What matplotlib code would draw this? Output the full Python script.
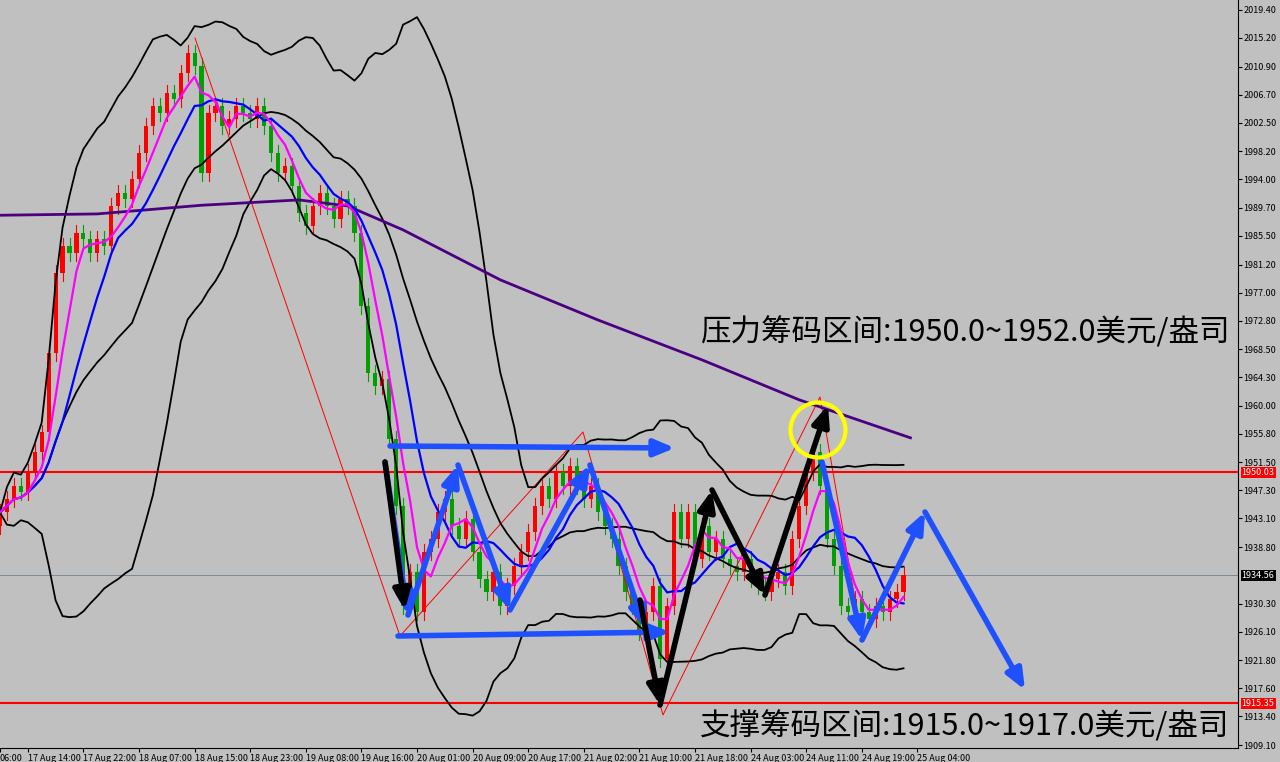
import matplotlib
matplotlib.use("Agg")
import matplotlib.pyplot as plt
import numpy as np
import pandas as pd
from matplotlib.patches import Ellipse

plt.rcParams['font.family'] = ['Noto Sans CJK SC', 'DejaVu Sans']

closes = [1944,1946,1948,1947,1950,1953,1956,1968,1980,1984,1983,1986,1985,1983,1985,1984,
          1990,1992,1991,1994,1998,2002,2005,2004,2007,2006,2010,2013,2011,1995,2004,2005,2002,
          2003,2005,2004,2003,2005,2002,1998,1995,1996,1993,1989,1987,1990,1992,1990,1988,1991,
          1990,1986,1975,1965,1963,1964,1955,1945,1930,1935,1929,1938,1940,1944,1946,1942,1940,
          1943,1938,1934,1932,1935,1930,1933,1936,1938,1941,1945,1948,1946,1950,1948,1951,1948,
          1946,1948,1944,1942,1940,1936,1932,1930,1926,1929,1933,1922,1930,1944,1940,1944,1937,
          1942,1938,1940,1937,1936,1935,1937,1934,1933,1932,1934,1935,1933,1940,1945,1950,1953,
          1948,1940,1936,1930,1929,1931,1929,1928,1930,1929,1931,1932,1934.6]
first_open = 1942
ma200_x = [0, 14, 29, 43, 50, 58, 72, 86, 101, 115, 131]
ma200_y = [1988.6, 1988.8, 1990.1, 1990.9, 1990.0, 1986.4, 1978.9, 1972.9, 1966.9, 1960.9, 1955.2]
ytick_vals = [2019.40,2015.20,2010.90,2006.70,2002.50,1998.20,1994.00,1989.70,1985.50,1981.20,
              1977.00,1972.80,1968.50,1964.30,1960.00,1955.80,1951.50,1947.30,1943.10,1938.80,
              1930.30,1926.10,1921.80,1917.60,1913.40,1909.10]
xtick_pos = [0,4,12,20,28,36,44,52,60,68,76,84,92,100,108,116,124,132]
xtick_lab = ["06:00","17 Aug 14:00","17 Aug 22:00","18 Aug 07:00","18 Aug 15:00","18 Aug 23:00",
             "19 Aug 08:00","19 Aug 16:00","20 Aug 01:00","20 Aug 09:00","20 Aug 17:00","21 Aug 02:00",
             "21 Aug 10:00","21 Aug 18:00","24 Aug 03:00","24 Aug 11:00","24 Aug 19:00","25 Aug 04:00"]
resist, support, last = 1950.03, 1915.35, 1934.56

PX = 6.95  # pixels per bar
def P(x, y):  # pixel -> data
    return (x / PX, 2019.4 - (y - 10) / 6.664)

fig = plt.figure(figsize=(12.8, 7.62), dpi=100)
fig.patch.set_facecolor('#c0c0c0')
ax = fig.add_axes([0, 14/762, 1238/1280, 748/762])
ax.set_facecolor('#c0c0c0')

c = np.array(closes, float)
o = np.concatenate([[first_open], c[:-1]])
hi = np.maximum(o, c) + 1.2
lo = np.minimum(o, c) - 1.2
x = np.arange(len(c))
for i in range(len(c)):
    col = '#ff0000' if c[i] >= o[i] else '#00a000'
    ax.plot([i, i], [lo[i], hi[i]], color=col, lw=0.8, zorder=2)
    ax.bar(i, abs(c[i]-o[i]) or 0.2, bottom=min(o[i], c[i]), width=0.6, color=col, zorder=3)

s = pd.Series(c)
mid = s.rolling(20, min_periods=1).mean()
sd = s.rolling(20, min_periods=1).std().fillna(0)
ax.plot(x, mid, color='black', lw=1.3, zorder=4)
ax.plot(x, mid + 2*sd, color='black', lw=1.3, zorder=4)
ax.plot(x, mid - 2*sd, color='black', lw=1.3, zorder=4)
ax.plot(x, s.rolling(10, min_periods=1).mean(), color='#0000ff', lw=1.6, zorder=5)
ax.plot(x, s.rolling(5, min_periods=1).mean(), color='#ff00ff', lw=1.6, zorder=5)
ax.plot(ma200_x, ma200_y, color='#4b0082', lw=2, zorder=4)

ax.axhline(resist, color='red', lw=1.5, zorder=1)
ax.axhline(support, color='red', lw=1.5, zorder=1)
ax.axhline(last, color='#708090', lw=0.6, zorder=1)

zz = [(195,38),(400,636),(583,432),(663,715),(820,397),(862,640)]
ax.plot([P(*p)[0] for p in zz], [P(*p)[1] for p in zz], color='red', lw=0.7, zorder=3)

def arrow(p1, p2, col):
    ax.annotate('', xy=P(*p2), xytext=P(*p1),
                arrowprops=dict(arrowstyle='-|>,head_length=1.2,head_width=0.5', color=col, lw=4,
                                shrinkA=0, shrinkB=0),
                zorder=7)
blue = '#1e50ff'
for a, b in [((385,462),(408,615)),((408,615),(458,465)),((458,465),(510,610)),((510,610),(590,465)),
             ((590,465),(645,628)),((390,446),(675,448)),((398,636),(670,632)),((822,462),(862,640)),
             ((862,640),(925,512)),((925,512),(1025,690))]:
    arrow(a, b, blue)
for a, b in [((385,462),(405,610)),((640,600),(660,705)),((660,705),(712,490)),((712,490),(765,595)),((765,595),(828,405))]:
    arrow(a, b, 'black')

cx, cy = P(818, 430)
ax.add_patch(Ellipse((cx, cy), 55/PX, 55/6.664, fill=False, ec='yellow', lw=3, zorder=8))

ax.text(*P(700, 333), '压力筹码区间:1950.0~1952.0美元/盎司', fontsize=22, fontweight='medium',
        va='center', ha='left', zorder=9)
ax.text(*P(700, 727), '支撑筹码区间:1915.0~1917.0美元/盎司', fontsize=22, fontweight='medium',
        va='center', ha='left', zorder=9)

ax.set_xlim(0, 1238/PX)
ax.set_ylim(2019.4 - 738/6.664, 2019.4 + 10/6.664)
ax.yaxis.tick_right()
ax.set_yticks(ytick_vals)
ax.set_yticklabels([f"{v:.2f}" for v in ytick_vals], fontsize=6.5)
ax.set_xticks(xtick_pos)
ax.set_xticklabels(xtick_lab, fontsize=6.5, ha='left')
ax.tick_params(length=3, pad=1)
for sp in ['top', 'left']:
    ax.spines[sp].set_visible(False)
for lab, v, fc in [("1950.03", resist, 'red'), ("1915.35", support, 'red'), ("1934.56", last, 'black')]:
    ax.text(1.003, v, lab, transform=ax.get_yaxis_transform(), fontsize=6.5, color='white',
            va='center', ha='left', bbox=dict(fc=fc, ec='none', pad=0.8), clip_on=False)

fig.savefig('out.png', dpi=100, facecolor=fig.get_facecolor())
